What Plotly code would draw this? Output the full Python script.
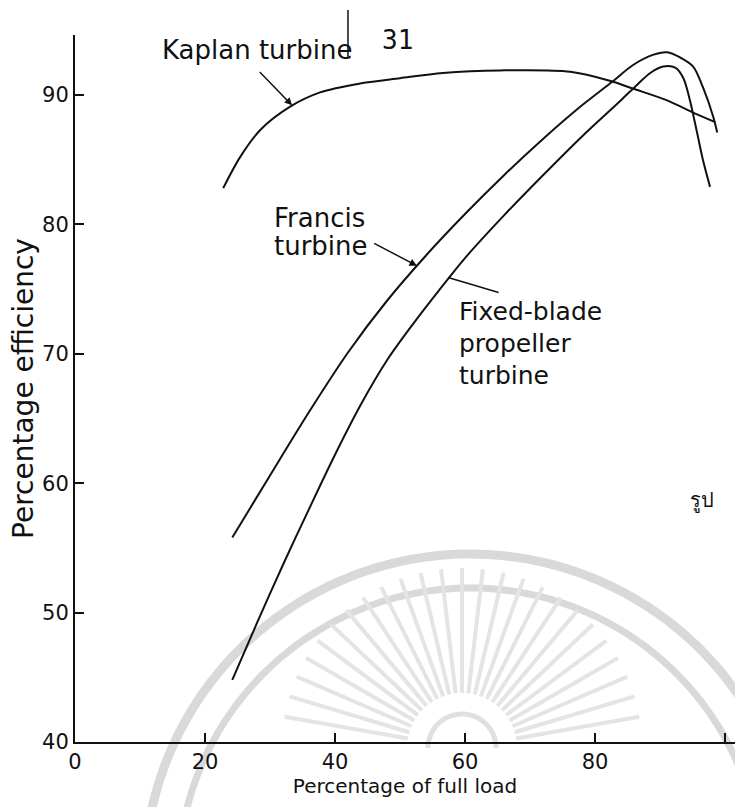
import numpy as np
import plotly.graph_objects as go

# Turbine part-load efficiency curves (percentage of full load vs percentage efficiency)
kaplan_load = [22.8, 25.4, 28.5, 33.1, 37.7, 44.0, 50.0, 56.6, 65.4, 76.2, 82.3, 85.8, 91.0, 95.7, 98.5]
kaplan_eff = [82.8, 85.2, 87.3, 89.1, 90.2, 90.9, 91.3, 91.7, 91.9, 91.8, 91.1, 90.5, 89.6, 88.5, 87.9]

francis_load = [24.2, 30.0, 36.0, 42.0, 48.0, 54.0, 60.0, 66.0, 72.0, 78.0, 82.6, 85.8, 88.9, 91.1, 93.1, 95.1, 96.6, 98.2, 98.8]
francis_eff = [55.8, 60.6, 65.5, 70.1, 74.1, 77.6, 80.8, 83.8, 86.6, 89.2, 91.0, 92.3, 93.1, 93.3, 92.9, 92.2, 90.6, 88.3, 87.1]

fixed_load = [24.2, 28.0, 32.0, 36.0, 40.0, 44.0, 48.0, 52.0, 56.0, 60.0, 66.0, 72.0, 78.0, 84.0, 86.5, 88.5, 90.5, 92.4, 93.6, 94.6, 95.7, 96.6, 97.7]
fixed_eff = [44.8, 49.2, 53.7, 58.0, 62.2, 66.1, 69.5, 72.3, 74.9, 77.4, 80.7, 83.8, 86.8, 89.6, 90.8, 91.7, 92.2, 92.1, 91.3, 89.6, 87.1, 85.0, 82.9]

x_ticks = [0, 20, 40, 60, 80, 100]
y_ticks = [40, 50, 60, 70, 80, 90]

FONT = "DejaVu Sans"
INK = "#111111"

fig = go.Figure()
for xs, ys in [(kaplan_load, kaplan_eff), (francis_load, francis_eff), (fixed_load, fixed_eff)]:
    fig.add_trace(go.Scatter(
        x=xs, y=ys, mode="lines",
        line=dict(color=INK, width=2, shape="spline", smoothing=0.9),
        showlegend=False, hoverinfo="skip",
    ))

# Curve labels
labels = [
    ("Kaplan turbine", 28.0, 93.5, "center", 26),
    ("Francis", 30.3, 80.5, "left", 26),
    ("turbine", 30.3, 78.3, "left", 26),
    ("Fixed-blade", 58.8, 73.3, "left", 25),
    ("propeller", 58.8, 70.8, "left", 25),
    ("turbine", 58.8, 68.3, "left", 25),
]
annotations = []
for text, x, y, anchor, size in labels:
    annotations.append(dict(
        text=text, x=x, y=y, xref="x", yref="y", xanchor=anchor, yanchor="middle",
        showarrow=False, font=dict(family=FONT, size=size, color=INK),
    ))

# Leader arrows from labels to curves
leaders = [
    (33.4, 89.2, 28.2, 91.9, 2),
    (52.6, 76.8, 45.8, 78.6, 2),
    (57.4, 75.9, 65.4, 74.7, 0),
]
for hx, hy, tx, ty, head in leaders:
    annotations.append(dict(
        text="", x=hx, y=hy, ax=tx, ay=ty, xref="x", yref="y", axref="x", ayref="y",
        showarrow=True, arrowhead=head, arrowsize=1, arrowwidth=1.5, arrowcolor=INK,
    ))

# Page number and side mark
annotations.append(dict(
    text="31", x=397, y=23, xref="paper", yref="paper", showarrow=False,
    font=dict(family="DejaVu Sans Mono", size=26, color=INK),
))
annotations.append(dict(
    text="รูป", x=716, y=499, xref="paper", yref="paper", showarrow=False,
    font=dict(family="Noto Sans", size=20, color=INK),
))

# Convert pixel positions for page ornaments into paper coordinates
L, T, B, W, H = 75, 35, 65, 735, 807
PW, PH = W - L, H - T - B


def px_to_paper(px, py):
    return (px - L) / PW, (H - B - py) / PH


for a in annotations:
    if a.get("xref") == "paper":
        a["x"], a["y"] = px_to_paper(a["x"], a["y"])

shapes = []


def path_from(points):
    pts = [px_to_paper(px, py) for px, py in points]
    return "M " + " L ".join(f"{x:.4f},{y:.4f}" for x, y in pts)


# Watermark seal: two arcs, rays and a small sun
cx, cy = 470, 880
for r, w in [(326, 9), (292, 7)]:
    ang = np.linspace(np.pi * 0.93, np.pi * 0.03, 120)
    pts = [(cx + r * np.cos(a), cy - r * np.sin(a)) for a in ang]
    shapes.append(dict(type="path", path=path_from(pts), xref="paper", yref="paper",
                       line=dict(color="#d9d9d9", width=w), layer="below"))

sx, sy = 462, 748
for a in np.linspace(np.radians(10), np.radians(170), 25):
    p0 = (sx + 55 * np.cos(a), sy - 55 * np.sin(a))
    p1 = (sx + 180 * np.cos(a), sy - 180 * np.sin(a))
    shapes.append(dict(type="path", path=path_from([p0, p1]), xref="paper", yref="paper",
                       line=dict(color="#e4e4e4", width=4), layer="below"))
sun = [(sx + 34 * np.cos(a), sy - 34 * np.sin(a)) for a in np.linspace(0, np.pi, 40)]
shapes.append(dict(type="path", path=path_from(sun), xref="paper", yref="paper",
                   line=dict(color="#e0e0e0", width=5), layer="below"))

# Gutter line near the page number
shapes.append(dict(type="path", path=path_from([(348, 10), (348, 58)]), xref="paper", yref="paper",
                   line=dict(color=INK, width=1.5)))

fig.update_layout(
    width=W, height=H,
    margin=dict(l=L, r=0, t=T, b=B, autoexpand=False),
    paper_bgcolor="white", plot_bgcolor="rgba(0,0,0,0)",
    font=dict(family=FONT, color=INK),
    annotations=annotations, shapes=shapes,
    xaxis=dict(
        range=[0, PW / 6.5], tickvals=x_ticks, ticktext=[str(v) for v in x_ticks],
        showgrid=False, zeroline=False, showline=True, linecolor=INK, linewidth=1.5,
        ticks="inside", ticklen=9, tickwidth=1.5, tickcolor=INK,
        tickfont=dict(family=FONT, size=21, color=INK), automargin=False,
        title=dict(text="Percentage of full load", font=dict(family=FONT, size=20, color=INK), standoff=6),
    ),
    yaxis=dict(
        range=[40, 40 + PH / 12.94], tickvals=y_ticks, ticktext=[str(v) for v in y_ticks],
        showgrid=False, zeroline=False, showline=True, linecolor=INK, linewidth=2,
        ticks="inside", ticklen=9, tickwidth=1.5, tickcolor=INK,
        tickfont=dict(family=FONT, size=21, color=INK), automargin=False,
        title=dict(text="Percentage efficiency", font=dict(family=FONT, size=28, color=INK), standoff=0),
    ),
)

fig.write_html("out.html")
